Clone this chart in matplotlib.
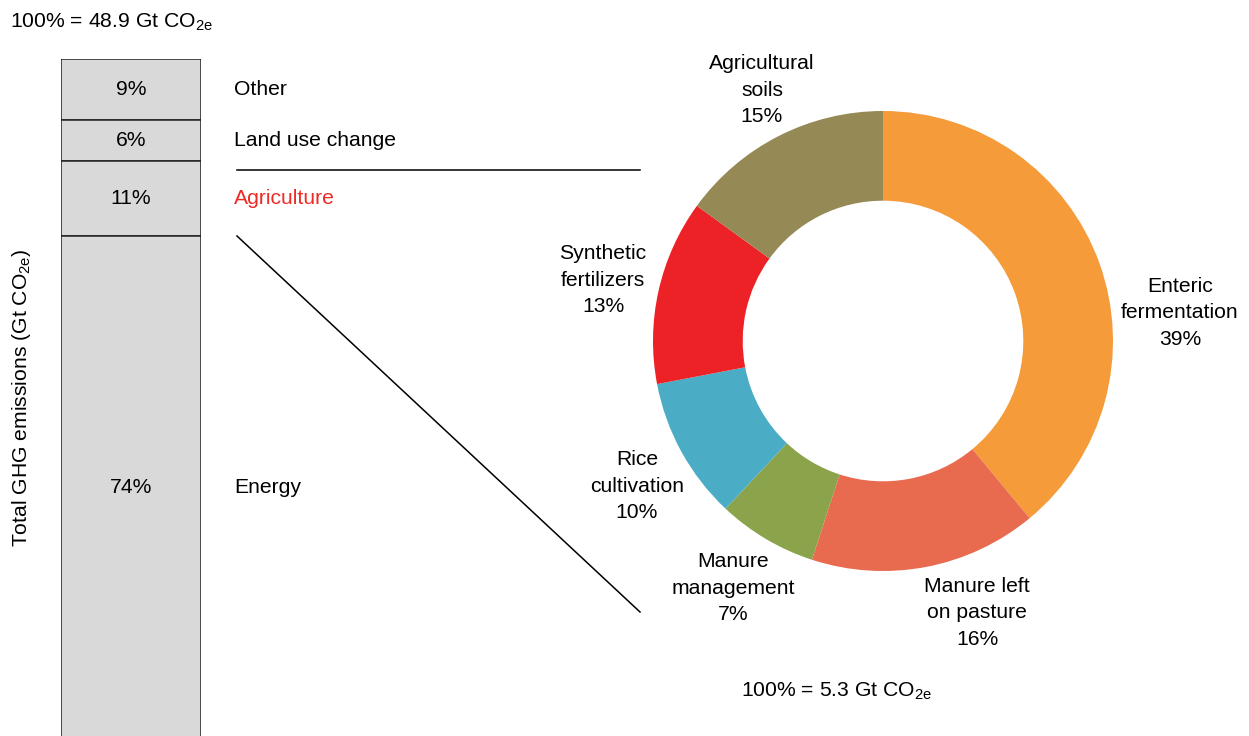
import matplotlib
matplotlib.use("Agg")
import matplotlib.pyplot as plt
from matplotlib.lines import Line2D

plt.rcParams['font.family'] = ['Liberation Sans', 'DejaVu Sans']
plt.rcParams['mathtext.default'] = 'regular'

# total GHG emissions split (top to bottom)
sectors = ['Other', 'Land use change', 'Agriculture', 'Energy']
sector_share = [9, 6, 11, 74]
sector_color = ['black', 'black', '#ee2a24', 'black']

# agriculture split (clockwise from top)
ag_labels = ['Enteric\nfermentation', 'Manure left\non pasture', 'Manure\nmanagement',
             'Rice\ncultivation', 'Synthetic\nfertilizers', 'Agricultural\nsoils']
ag_share = [39, 16, 7, 10, 13, 15]
ag_colors = ['#f59b3a', '#e86b4f', '#8ba34b', '#4bacc6', '#ec2227', '#958955']

W, H = 1249, 736
fig = plt.figure(figsize=(W / 100, H / 100), dpi=100)
FS = 15.2


def px(x, y):
    # pixel position (from top-left) -> figure fraction
    return x / W, 1 - y / H


# stacked bar
bx = fig.add_axes([61 / W, (H - 739) / H, 140 / W, 680 / H])
top = 100
for name, share, col in zip(sectors, sector_share, sector_color):
    bottom = top - share
    bx.bar(0.5, share, bottom=bottom, width=1, color='#d9d9d9', edgecolor='#222222', linewidth=1.1)
    mid = bottom + share / 2
    bx.text(0.5, mid, f'{share}%', ha='center', va='center', fontsize=FS)
    bx.text(1.236, mid, name, ha='left', va='center', fontsize=FS, color=col, clip_on=False)
    top = bottom
bx.set_xlim(0, 1)
bx.set_ylim(0, 100)
bx.axis('off')

fig.text(*px(10, 22), r'100% = 48.9 Gt CO$_{2e}$', ha='left', va='center', fontsize=FS)
fig.text(*px(22, 398), r'Total GHG emissions (Gt CO$_{2e}$)', rotation=90,
         ha='center', va='center', fontsize=FS)

# connector lines
for (x0, y0), (x1, y1) in [((237, 170), (640, 170)), ((237, 236), (640, 612))]:
    a, b = px(x0, y0)
    c, d = px(x1, y1)
    fig.add_artist(Line2D([a, c], [b, d], color='black', linewidth=1.1))

# donut
R = 230
cx, cy = 883, 341
pa = fig.add_axes([(cx - R) / W, (H - cy - R) / H, 2 * R / W, 2 * R / H])
pa.pie(ag_share, colors=ag_colors, startangle=90, counterclock=False, radius=1,
       wedgeprops=dict(width=0.39, linewidth=0))
pa.set_xlim(-1, 1)
pa.set_ylim(-1, 1)
pa.axis('off')

label_pos = [(1180, 313), (977, 613), (733, 588), (637, 486), (603, 280), (762, 90)]
for lab, share, (lx, ly) in zip(ag_labels, ag_share, label_pos):
    pa.text((lx - cx) / R, (cy - ly) / R, f'{lab}\n{share}%', ha='center', va='center',
            fontsize=FS, linespacing=1.5, clip_on=False)

fig.text(*px(741, 691), r'100% = 5.3 Gt CO$_{2e}$', ha='left', va='center', fontsize=FS)

fig.savefig('out.png', dpi=100)
